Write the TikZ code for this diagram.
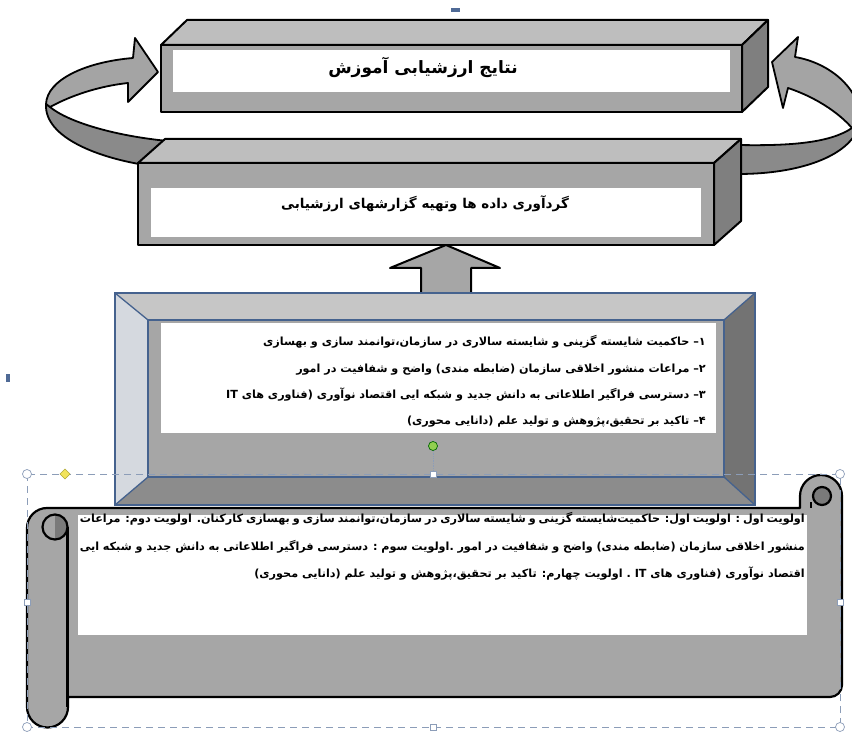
\documentclass[tikz,border=0pt]{standalone}
\usepackage{fontspec}
\usetikzlibrary{positioning}
\newfontfamily\farsi[Script=Arabic]{DejaVu Sans}
\TeXXeTstate=1

\definecolor{cubefront}{HTML}{A6A6A6}
\definecolor{cubetop}{HTML}{BEBEBE}
\definecolor{cubeside}{HTML}{7F7F7F}
\definecolor{bandfront}{HTML}{A4A4A4}
\definecolor{bandback}{HTML}{8A8A8A}
\definecolor{bevelblue}{HTML}{45628E}
\definecolor{beveltop}{HTML}{C6C6C6}
\definecolor{bevelleft}{HTML}{D5D9DF}
\definecolor{bevelright}{HTML}{737373}
\definecolor{bevelbottom}{HTML}{8C8C8C}
\definecolor{bevelface}{HTML}{A6A6A6}
\definecolor{scrollgray}{HTML}{A6A6A6}
\definecolor{curldark}{HTML}{7A7A7A}
\definecolor{selgray}{HTML}{8C9DB8}
\definecolor{markblue}{HTML}{4F6A96}
\definecolor{rotgreen}{HTML}{92D050}
\definecolor{adjyellow}{HTML}{F2E35A}

\newcommand{\rtltext}[1]{\beginR #1\endR}

\begin{document}
\begin{tikzpicture}[
        x=1pt, y=-1pt,
        every node/.style={inner sep=0pt, font=\farsi\bfseries},
        cube/.style={draw=black, line width=2pt, line join=round},
        loopband/.style={draw=black, line width=1.8pt, line join=round},
        bevelline/.style={draw=bevelblue, line width=1.3pt},
        scrolledge/.style={draw=black, line width=2.2pt, line join=round},
        titletext/.style={font=\farsi\bfseries\fontsize{17}{20}\selectfont},
        boxtext/.style={font=\farsi\bfseries\fontsize{13.5}{16}\selectfont},
        listline/.style={font=\farsi\bfseries\fontsize{11.2}{13}\selectfont, text height=9pt, text depth=3.5pt},
        prioline/.style={font=\farsi\bfseries\fontsize{11.2}{13}\selectfont, text height=9pt, text depth=3.5pt},
        grip/.style={draw=selgray, fill=white, line width=0.7pt}
    ]
    \useasboundingbox (0,0) rectangle (852,738);

    % Loop arrows (behind the boxes)
    \path[loopband, fill=bandback] (46,104) .. controls (44,138) and (100,158) .. (145,165)
        -- (168,141) .. controls (115,136) and (68,122) .. (50,107) -- cycle;
    \path[loopband, fill=bandfront] (128,83) -- (128,102) -- (158,72) -- (135,38) -- (133,58)
        .. controls (85,62) and (47,80) .. (46,104) -- (50,107)
        .. controls (72,95) and (100,86) .. (128,83) -- cycle;
    \path[loopband, fill=bandback] (852,128) .. controls (830,143) and (790,146) .. (738,145)
        -- (738,174) .. controls (810,174) and (862,150) .. (860,115) -- cycle;
    \path[loopband, fill=bandfront] (788,88) -- (783,108) -- (772,62) -- (798,37) -- (795,57)
        .. controls (830,63) and (858,88) .. (860,115) -- (852,128)
        .. controls (838,112) and (815,97) .. (788,88) -- cycle;

    % Nodes
    \path[cube, fill=cubetop] (161,45) -- (187,20) -- (768,20) -- (742,45) -- cycle;
    \path[cube, fill=cubeside] (742,45) -- (768,20) -- (768,87) -- (742,112) -- cycle;
    \path[cube, fill=cubefront] (161,45) rectangle (742,112);
    \fill[white] (173,50) rectangle (730,92);
    \node[titletext] (results) at (423,67) {\rtltext{نتایج ارزشیابی آموزش}};

    \path[cube, fill=cubetop] (138,163) -- (165,139) -- (741,139) -- (714,163) -- cycle;
    \path[cube, fill=cubeside] (714,163) -- (741,139) -- (741,221) -- (714,245) -- cycle;
    \path[cube, fill=cubefront] (138,163) rectangle (714,245);
    \fill[white] (151,188) rectangle (701,237);
    \node[boxtext] (collect) at (425,204) {\rtltext{گردآوری داده ها وتهیه گزارشهای ارزشیابی}};

    % Edges
    \coordinate (uptip) at (446,245);
    \path[cube, fill=cubefront] (uptip) -- ++(54,23) -- ++(-29,0) -- ++(0,27) -- ++(-50,0)
        -- ++(0,-27) -- ++(-31,0) -- cycle;

    % Bevel frame
    \fill[beveltop] (115,293) -- (755,293) -- (724,320) -- (148,320) -- cycle;
    \fill[bevelleft] (115,293) -- (148,320) -- (148,477) -- (115,505) -- cycle;
    \fill[bevelright] (755,293) -- (755,505) -- (724,477) -- (724,320) -- cycle;
    \fill[bevelbottom] (115,505) -- (148,477) -- (724,477) -- (755,505) -- cycle;
    \fill[bevelface] (148,320) rectangle (724,477);
    \draw[bevelline] (115,293) rectangle (755,505);
    \draw[bevelline] (148,320) rectangle (724,477);
    \draw[bevelline] (115,293) -- (148,320) (755,293) -- (724,320)
        (115,505) -- (148,477) (755,505) -- (724,477);
    \fill[white] (161,323) rectangle (716,433);

    \node[listline, anchor=east] (item1) at (706,343) {\rtltext{۱\kern0pt– حاکمیت شایسته گزینی و شایسته سالاری در سازمان،توانمند سازی و بهسازی}};
    \node[listline, below=13.5pt of item1.south east, anchor=north east] (item2) {\rtltext{۲\kern0pt– مراعات منشور اخلاقی سازمان (ضابطه مندی) واضح و شفافیت در امور}};
    \node[listline, below=13.5pt of item2.south east, anchor=north east] (item3) {\rtltext{۳\kern0pt– دسترسی فراگیر اطلاعاتی به دانش جدید و شبکه ایی اقتصاد نوآوری (فناوری های \beginL IT\endL}};
    \node[listline, below=13.5pt of item3.south east, anchor=north east] (item4) {\rtltext{۴\kern0pt– تاکید بر تحقیق،پژوهش و تولید علم (دانایی محوری)}};

    % Scroll
    \path[scrolledge, fill=scrollgray] (27,528) arc[start angle=180, end angle=90, radius=20pt]
        -- (800,508) -- (800,496) arc[start angle=180, end angle=0, radius=21pt]
        -- (842,685) arc[start angle=0, end angle=-90, radius=12pt]
        -- (68,697) -- (68,707) arc[start angle=0, end angle=-180, radius=20.5pt] -- cycle;
    \draw[scrolledge] (67.5,527) -- (67.5,707);
    \fill[curldark] (55,514.5) arc[start angle=90, end angle=-90, radius=12.5pt] -- cycle;
    \draw[scrolledge] (55,527) circle[radius=12.5pt];
    \draw[scrolledge, fill=curldark] (822,496) circle[radius=9pt];
    \draw[scrolledge] (811,502) -- (811,508);
    \fill[white] (78,515) rectangle (807,635);

    \node[prioline, anchor=east] (prio1) at (805,520) {\hbox to 725pt{\rtltext{اولویت اول :  اولویت اول: حاکمیت‌شایسته گزینی و شایسته سالاری در سازمان،توانمند سازی و بهسازی کارکنان. اولویت دوم: مراعات}}};
    \node[prioline, below=14.5pt of prio1.south east, anchor=north east] (prio2) {\hbox to 725pt{\rtltext{منشور اخلاقی سازمان (ضابطه مندی) واضح و شفافیت در امور .اولویت سوم  :  دسترسی فراگیر اطلاعاتی به دانش جدید و شبکه ایی}}};
    \node[prioline, below=14.5pt of prio2.south east, anchor=north east] (prio3) {\rtltext{اقتصاد نوآوری (فناوری های \beginL IT\endL{} . اولویت چهارم: تاکید بر تحقیق،پژوهش و تولید علم (دانایی محوری)}};

    % Selection marks
    \draw[selgray, dash pattern=on 7pt off 5pt, line width=0.8pt] (27,474) rectangle (840,727);
    \draw[selgray, densely dotted, line width=0.7pt] (433,451) -- (433,471);
    \foreach \px/\py in {27/474, 840/474, 27/727, 840/727}
        \draw[grip] (\px,\py) circle[radius=4.5pt];
    \foreach \px/\py in {27/602, 840/602, 433/474, 433/727}
        \draw[grip] (\px-3,\py-3) rectangle (\px+3,\py+3);
    \draw[draw=olive!70, fill=adjyellow, line width=0.7pt] (65,469) -- (70,474) -- (65,479) -- (60,474) -- cycle;
    \draw[draw=green!40!black, fill=rotgreen, line width=0.7pt] (433,446) circle[radius=4.5pt];
    \fill[markblue] (451,8) rectangle (460,12);
    \fill[markblue] (6,374) rectangle (10,382);

\end{tikzpicture}
\end{document}
